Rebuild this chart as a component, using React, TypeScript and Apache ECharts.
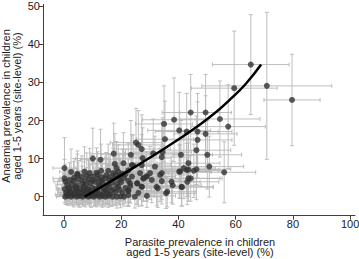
import React, { useEffect, useRef } from "react";
import * as echarts from "echarts";

// [parasite %, anaemia %, x half-CI, y half-CI]
const sites: number[][] = [
  // y ~ 0
  [0.5, 0, 3, 2], [1.5, 0.2, 4, 2.5], [2.5, 0, 3, 2], [3.5, 0.3, 5, 3], [4.5, 0, 4, 2], [5.5, 0.2, 5, 3],
  [6.5, 0, 4, 2.5], [7.5, 0.3, 6, 3], [8.5, 0, 5, 2], [9.5, 0.2, 6, 3], [10.5, 0, 5, 2.5], [11.5, 0.3, 7, 3],
  [12.5, 0, 6, 2], [13.5, 0.2, 7, 3], [14.5, 0, 6, 2.5], [15.5, 0.2, 7, 3], [17, 0, 8, 2.5], [18.5, 0, 8, 3],
  [19.8, 0.1, 9, 3], [21, 0, 8, 2.5], [24.8, 0, 9, 3], [29, 0.2, 10, 3],
  [1, 0.5, 4, 2.5], [3, 0.6, 4, 3], [5, 0.5, 5, 3], [7, 0.7, 5, 3], [9, 0.5, 6, 3], [11, 0.6, 6, 3],
  [13, 0.5, 7, 3], [16, 0.6, 7, 3], [22.5, 0.4, 9, 3],
  // y ~ 1
  [0.8, 1.0, 3, 3], [2.2, 1.2, 4, 3], [3.8, 0.9, 5, 3], [5, 1.3, 5, 3.5], [6.2, 1.0, 6, 3], [7.8, 1.4, 6, 3.5],
  [9, 1.1, 6, 3], [10.8, 1.2, 7, 3.5], [12, 0.8, 7, 3], [13.8, 1.3, 8, 3.5], [15, 1.0, 8, 3], [16.5, 1.5, 8, 4],
  [18, 1.2, 9, 3.5], [20.5, 1.0, 9, 3], [22.5, 1.6, 9, 4], [26, 1.0, 10, 3.5],
  [1.8, 1.7, 4, 3.5], [4.4, 1.8, 5, 3.5], [6.8, 1.8, 6, 3.5], [8.8, 1.7, 6, 3.5], [11.8, 1.8, 7, 3.5],
  [14.6, 1.7, 8, 3.5], [19.4, 1.8, 8, 4],
  // y ~ 2
  [0.3, 2.0, 3, 3.5], [1.6, 2.3, 4, 3.5], [3, 2.0, 5, 3.5], [4.2, 2.5, 5, 4], [5.8, 2.1, 6, 4], [7, 2.6, 6, 4],
  [8.2, 2.0, 6, 3.5], [9.8, 2.4, 7, 4], [11, 2.1, 7, 4], [12.5, 2.7, 8, 4], [14, 2.2, 8, 4], [15.8, 2.5, 8, 4.5],
  [17.5, 2.0, 8, 4], [19, 2.6, 9, 4.5], [21.5, 2.3, 9, 4], [23.2, 2.8, 9, 4.5], [27.2, 2.6, 10, 5],
  // y ~ 3
  [1.2, 3.1, 4, 4], [2.8, 3.3, 5, 4], [4.5, 3.0, 5, 4.5], [6.4, 3.5, 6, 4.5], [7.8, 3.1, 6, 4.5], [9.2, 3.6, 7, 5],
  [10.9, 3.9, 7, 5], [12.2, 3.2, 7, 4.5], [13.5, 3.7, 8, 5], [15.2, 3.1, 8, 5], [16.8, 3.6, 8, 5], [18.5, 3.3, 9, 5],
  [20, 3.8, 9, 5], [23.1, 3.5, 9, 5], [25.6, 3.5, 10, 5.5],
  // y ~ 4
  [0.5, 4.0, 4, 4.5], [2, 4.4, 4, 4.5], [3.4, 4.2, 5, 5], [5.2, 4.5, 5, 5], [7.2, 4.1, 6, 5], [8.6, 4.6, 7, 5],
  [10, 4.3, 7, 5], [11.8, 4.7, 7, 5.5], [13, 4.2, 8, 5], [14.5, 4.8, 8, 5.5], [16, 4.3, 8, 5], [17.6, 4.7, 9, 5.5],
  [19.5, 4.4, 9, 5.5], [21, 4.9, 9, 6], [22.5, 4.2, 9, 5.5], [27.8, 4.8, 10, 6], [30.7, 4.4, 10, 6],
  // y ~ 5
  [0.2, 4.8, 4, 5], [3.6, 5.0, 5, 5], [4.7, 5.7, 5, 5.5], [6.3, 5.2, 6, 5.5], [8, 5.5, 6, 6], [10.1, 5.3, 7, 5.5],
  [11.8, 5.8, 7, 6], [13.2, 5.1, 8, 6], [14.8, 5.6, 8, 6], [16.2, 5.2, 8, 6], [18, 5.8, 9, 6], [19.5, 5.4, 9, 6],
  [21.5, 5.9, 9, 6.5], [23.8, 5.3, 9, 6], [28.9, 5.3, 10, 6.5],
  // y ~ 6-7
  [2.5, 6.5, 4, 6], [4.7, 6.0, 5, 6], [7.2, 6.6, 6, 6.5], [9, 6.2, 7, 6.5], [11.4, 6.3, 7, 6.5], [13, 6.8, 8, 7],
  [15.5, 6.8, 8, 7], [17.2, 6.2, 8, 6.5], [19, 6.6, 9, 7], [20.5, 6.0, 9, 6.5], [22.5, 6.9, 9, 7], [26.6, 6.2, 10, 7],
  [30.1, 6.2, 10, 7], [33.6, 5.7, 10, 7],
  // upper left
  [0.2, 7.5, 4, 8], [10.1, 10, 6, 8], [12.8, 9.7, 7, 8], [17.4, 11.3, 8, 8], [17.8, 8.6, 8, 8], [18.4, 7.5, 8, 7],
  [20.8, 8.8, 9, 8], [23.4, 11, 9, 9], [23.7, 8.3, 9, 8], [24.2, 8.2, 9, 8], [27.2, 8.3, 10, 8], [27.5, 10.1, 10, 8],
  [31.8, 7.9, 10, 8], [25.2, 14.2, 9, 9], [26, 13.6, 9, 9], [27.2, 12.5, 10, 9], [31.2, 11.4, 10, 9],
  [34.5, 11.7, 10, 9], [34.2, 10.4, 10, 9], [35, 19.1, 10, 10], [38.5, 20.2, 11, 11], [35.3, 15.1, 10, 10],
  // middle
  [28.9, 5.3, 10, 6.5], [27.8, 4.8, 10, 6], [25.6, 3.5, 10, 5.5], [27.2, 2.6, 10, 5], [32.4, 2.6, 10, 5],
  [36.1, 1.3, 10, 4], [37.6, 3.9, 10, 5.5], [41.1, 2.6, 11, 5], [43.1, 3.9, 11, 6], [22.5, 1.6, 9, 4],
  [40.6, 6.6, 11, 7], [42.9, 7.0, 11, 7], [38, 3.0, 10, 5], [41.2, 2.5, 11, 5], [35.7, 0.9, 10, 4], [32.8, 2.2, 10, 5],
  [34.2, 6.2, 10, 7], [34.2, 4.1, 10, 6],
  [40.9, 11.0, 11, 9], [50.1, 11.0, 12, 9], [43.5, 8.8, 11, 8], [50.8, 7.9, 12, 8], [41.9, 7.5, 11, 8],
  [40.3, 6.6, 11, 7], [43.5, 7.1, 11, 7], [45.4, 6.8, 11, 7], [46.3, 7.2, 12, 8], [56, 6.4, 11, 8],
  [43.5, 4.8, 11, 6], [44.3, 4.8, 11, 6],
  // upper
  [40.3, 17.4, 11, 10], [42.9, 17.1, 11, 10], [46.7, 17.1, 12, 10], [49.5, 16.5, 11, 10], [46.7, 14.9, 12, 10],
  [46.3, 12.2, 12, 9], [44.3, 22.1, 10, 10], [49.5, 22.1, 9, 10], [54.5, 20.4, 14, 10], [57.4, 18.4, 13, 11],
  [59.5, 28.5, 15, 15], [65.3, 34.7, 13.4, 13.1], [70.9, 29.1, 22.7, 19.3], [79.7, 25.4, 9.8, 12],
];

const fitX = [7.3, 15, 25, 35, 45, 52, 58, 63.5, 68.9];
const fitY = [0, 3.4, 7.9, 12.6, 17.6, 21.5, 25.5, 29.6, 34.7];

const xTicks = [0, 20, 40, 60, 80, 100];
const yTicks = [0, 10, 20, 30, 40, 50];

const FONT = "'Liberation Sans', Arial, sans-serif";

export default function App() {
  const ref = useRef<HTMLDivElement>(null);
  useEffect(() => {
    if (!ref.current) return;
    const chart = echarts.init(ref.current, undefined, { renderer: "svg" });
    const axisCol = "#404040";
    chart.setOption({
      animation: false,
      backgroundColor: "#ffffff",
      grid: { left: 43, right: 4, top: 4.4, bottom: 43.3, outerBoundsMode: "none" },
      xAxis: {
        type: "value",
        min: -7.3,
        max: 101.7,
        splitLine: { show: false },
        axisLine: { onZero: false, lineStyle: { color: axisCol, width: 1 } },
        axisTick: { customValues: xTicks, length: 4, lineStyle: { color: axisCol } },
        axisLabel: { customValues: xTicks, color: "#222", fontSize: 11, fontFamily: FONT, margin: 3 },
      },
      yAxis: {
        type: "value",
        min: -5,
        max: 50.5,
        splitLine: { show: false },
        axisLine: { show: true, onZero: false, lineStyle: { color: axisCol, width: 1 } },
        axisTick: { show: true, customValues: yTicks, length: 4, lineStyle: { color: axisCol } },
        axisLabel: { customValues: yTicks, color: "#222", fontSize: 11, fontFamily: FONT, margin: 3 },
      },
      graphic: [
        {
          type: "text",
          x: 0,
          y: 106,
          rotation: Math.PI / 2,
          style: {
            text: "Anaemia prevalence in children\naged 1-5 years (site-level) (%)",
            fontSize: 11,
            lineHeight: 11,
            fontFamily: FONT,
            fill: "#222",
            align: "center",
            verticalAlign: "top",
          },
        },
        {
          type: "text",
          x: 200,
          y: 236.5,
          style: {
            text: "Parasite prevalence in children\naged 1-5 years (site-level) (%)",
            fontSize: 11,
            lineHeight: 10.5,
            fontFamily: FONT,
            fill: "#222",
            align: "center",
            verticalAlign: "top",
          },
        },
      ],
      series: [
        {
          type: "custom",
          data: sites,
          encode: { x: 0, y: 1 },
          silent: true,
          z: 1,
          renderItem: (_params: any, api: any) => {
            const x = api.value(0);
            const y = api.value(1);
            const ex = api.value(2);
            const ey = api.value(3);
            const l = api.coord([x - ex, y]);
            const r = api.coord([x + ex, y]);
            const t = api.coord([x, y + ey]);
            const b = api.coord([x, y - ey]);
            const c = 2;
            const style = { stroke: "#b8b8b8", lineWidth: 0.9, fill: null };
            return {
              type: "group",
              children: [
                { type: "line", shape: { x1: l[0], y1: l[1], x2: r[0], y2: r[1] }, style },
                { type: "line", shape: { x1: l[0], y1: l[1] - c, x2: l[0], y2: l[1] + c }, style },
                { type: "line", shape: { x1: r[0], y1: r[1] - c, x2: r[0], y2: r[1] + c }, style },
                { type: "line", shape: { x1: t[0], y1: t[1], x2: b[0], y2: b[1] }, style },
                { type: "line", shape: { x1: t[0] - c, y1: t[1], x2: t[0] + c, y2: t[1] }, style },
                { type: "line", shape: { x1: b[0] - c, y1: b[1], x2: b[0] + c, y2: b[1] }, style },
              ],
            };
          },
        },
        {
          type: "scatter",
          data: sites.map((s) => [s[0], s[1]]),
          symbolSize: 6,
          itemStyle: { color: "#333333" },
          z: 2,
        },
        {
          type: "line",
          data: fitX.map((x, i) => [x, fitY[i]]),
          smooth: true,
          showSymbol: false,
          lineStyle: { color: "#000", width: 2.5 },
          z: 3,
        },
      ],
    });
    return () => chart.dispose();
  }, []);
  return (
    <div
      ref={ref}
      style={{ position: "fixed", left: 0, top: 0, width: 359, height: 259, background: "#fff" }}
    />
  );
}
